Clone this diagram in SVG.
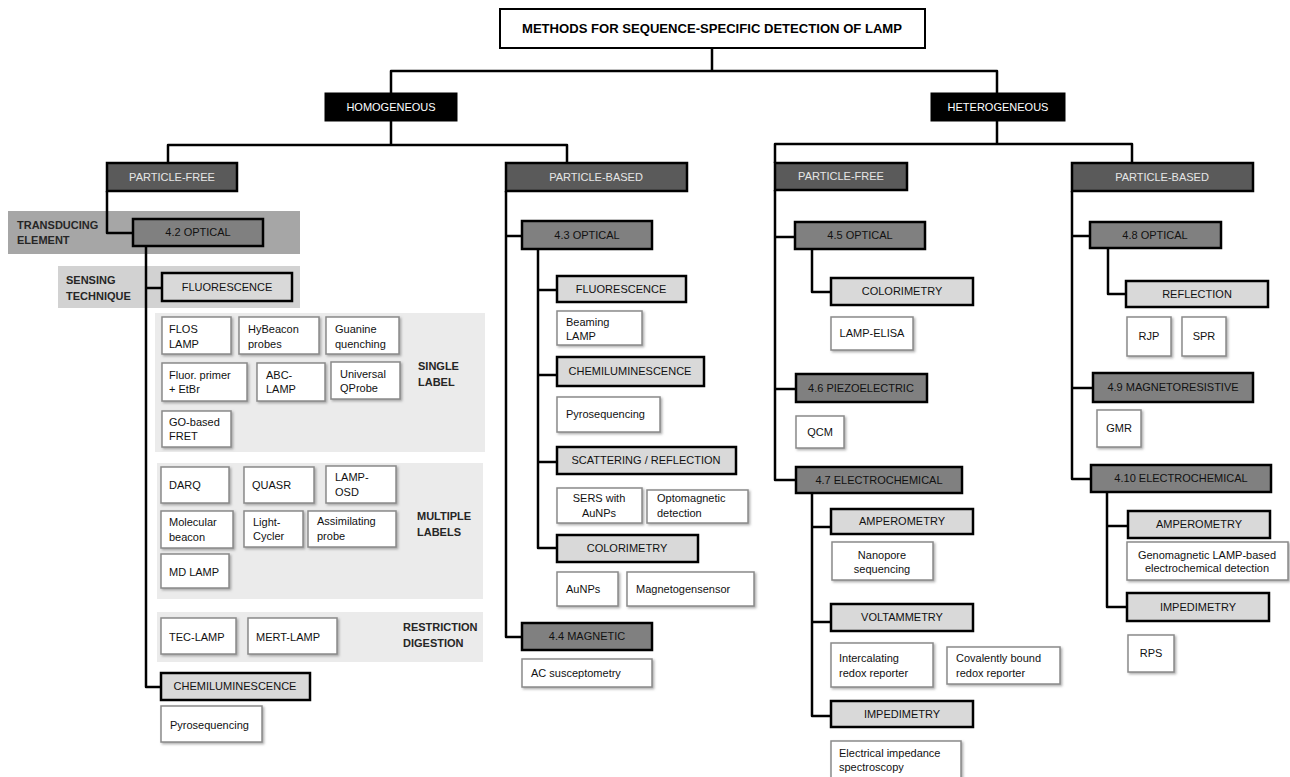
<svg xmlns="http://www.w3.org/2000/svg" width="1290" height="777" viewBox="0 0 1290 777">
<defs>
<filter id="sh" x="-10%" y="-10%" width="130%" height="140%">
<feDropShadow dx="1.5" dy="1.5" stdDeviation="0.8" flood-color="#777" flood-opacity="0.6"/>
</filter>
<style>
text{font-family:"Liberation Sans",Arial,sans-serif;font-size:11px;fill:#111}
.c{text-anchor:middle}
.b{font-weight:bold;fill:#262626}
.blk rect{fill:#000;stroke:#000;stroke-width:1}
.blk text{fill:#fff}
.dk rect{fill:#5a5a5a;stroke:#000;stroke-width:2.5}
.dk text{fill:#e6e6e6}
.md rect{fill:#808080;stroke:#000;stroke-width:2.5}
.lt rect{fill:#d9d9d9;stroke:#000;stroke-width:2.5}
.lf rect{fill:#fff;stroke:#8a8a8a;stroke-width:1.5;filter:url(#sh)}
.band{stroke:none}
#connectors path{fill:none;stroke:#000;stroke-width:2.5;stroke-linejoin:round}
</style>
</defs>
<rect width="1290" height="777" fill="#fff"/>

<g id="bands">
<rect class="band" x="8" y="211" width="292" height="43" fill="#a6a6a6"/>
<text class="b" x="17" y="229">TRANSDUCING</text>
<text class="b" x="17" y="244">ELEMENT</text>
<rect class="band" x="58" y="266" width="242" height="42" fill="#d2d2d2"/>
<text class="b" x="66" y="284">SENSING</text>
<text class="b" x="66" y="300">TECHNIQUE</text>
<rect class="band" x="155" y="313" width="330" height="139" fill="#ebebeb"/>
<text class="b" x="418" y="370">SINGLE</text>
<text class="b" x="418" y="386">LABEL</text>
<rect class="band" x="157" y="463" width="326" height="136" fill="#ebebeb"/>
<text class="b" x="417" y="520">MULTIPLE</text>
<text class="b" x="417" y="536">LABELS</text>
<rect class="band" x="157" y="612" width="326" height="50" fill="#ebebeb"/>
<text class="b" x="403" y="631">RESTRICTION</text>
<text class="b" x="403" y="647">DIGESTION</text>
</g>

<g id="connectors">
<path d="M712,48 V71 M391,93 V71 H997 V93"/>
<path d="M391,121 V145 M168,163 V145 H567 V163"/>
<path d="M997,121 V144 M775,163 V144 H1132 V163"/>
<path d="M107,191 V233 H133"/>
<path d="M146,246 V687 H161 M146,288 H162"/>
<path d="M506,191 V637 H522 M506,236 H522"/>
<path d="M538,249 V548 H557 M538,290 H557 M538,375 H557 M538,462 H557"/>
<path d="M775,190 V480 H796 M775,237 H795 M775,389 H796"/>
<path d="M812,249 V292 H831"/>
<path d="M812,493 V716 H831 M812,527 H831 M812,622 H831"/>
<path d="M1072,191 V479 H1091 M1072,236 H1090 M1072,388 H1093"/>
<path d="M1108,248 V294 H1126"/>
<path d="M1107,492 V607 H1127 M1107,526 H1128"/>
</g>

<g id="n-title">
<rect x="500" y="9" width="425" height="39" fill="#fff" stroke="#000" stroke-width="2"/>
<text class="c" x="712" y="33" style="font-size:12.5px;font-weight:bold;fill:#000" textLength="380" lengthAdjust="spacingAndGlyphs">METHODS FOR SEQUENCE-SPECIFIC DETECTION OF LAMP</text>
</g>

<g id="n-homogeneous" class="blk"><rect x="325" y="93" width="132" height="28"/><text class="c" x="391" y="111">HOMOGENEOUS</text></g>
<g id="n-heterogeneous" class="blk"><rect x="931" y="93" width="134" height="28"/><text class="c" x="998" y="111">HETEROGENEOUS</text></g>

<g id="n-pf-homo" class="dk"><rect x="107" y="163" width="130" height="28"/><text class="c" x="172" y="181">PARTICLE-FREE</text></g>
<g id="n-pb-homo" class="dk"><rect x="506" y="163" width="181" height="28"/><text class="c" x="596" y="181">PARTICLE-BASED</text></g>
<g id="n-pf-hetero" class="dk"><rect x="775" y="163" width="132" height="27"/><text class="c" x="841" y="180">PARTICLE-FREE</text></g>
<g id="n-pb-hetero" class="dk"><rect x="1072" y="163" width="181" height="28"/><text class="c" x="1162" y="181">PARTICLE-BASED</text></g>

<g id="n-4-2" class="md"><rect x="133" y="219" width="130" height="27"/><text class="c" x="198" y="236">4.2 OPTICAL</text></g>
<g id="n-4-3" class="md"><rect x="522" y="221" width="130" height="28"/><text class="c" x="587" y="239">4.3 OPTICAL</text></g>
<g id="n-4-4" class="md"><rect x="522" y="623" width="130" height="27"/><text class="c" x="587" y="640">4.4 MAGNETIC</text></g>
<g id="n-4-5" class="md"><rect x="795" y="222" width="130" height="27"/><text class="c" x="860" y="239">4.5 OPTICAL</text></g>
<g id="n-4-6" class="md"><rect x="796" y="374" width="131" height="28"/><text class="c" x="861" y="392">4.6 PIEZOELECTRIC</text></g>
<g id="n-4-7" class="md"><rect x="796" y="467" width="166" height="26"/><text class="c" x="879" y="484">4.7 ELECTROCHEMICAL</text></g>
<g id="n-4-8" class="md"><rect x="1090" y="222" width="131" height="26"/><text class="c" x="1155" y="239">4.8 OPTICAL</text></g>
<g id="n-4-9" class="md"><rect x="1093" y="373" width="160" height="29"/><text class="c" x="1173" y="391">4.9 MAGNETORESISTIVE</text></g>
<g id="n-4-10" class="md"><rect x="1091" y="465" width="180" height="27"/><text class="c" x="1181" y="482">4.10 ELECTROCHEMICAL</text></g>

<g id="n-fluo-l" class="lt"><rect x="162" y="273" width="130" height="28"/><text class="c" x="227" y="291">FLUORESCENCE</text></g>
<g id="n-chemi-l" class="lt"><rect x="161" y="673" width="149" height="27"/><text class="c" x="235" y="690">CHEMILUMINESCENCE</text></g>
<g id="n-fluo-pb" class="lt"><rect x="557" y="276" width="129" height="26"/><text class="c" x="621" y="293">FLUORESCENCE</text></g>
<g id="n-chemi-pb" class="lt"><rect x="557" y="357" width="147" height="29"/><text class="c" x="630" y="375">CHEMILUMINESCENCE</text></g>
<g id="n-scat" class="lt"><rect x="557" y="447" width="179" height="27"/><text class="c" x="646" y="464">SCATTERING / REFLECTION</text></g>
<g id="n-color-pb" class="lt"><rect x="557" y="535" width="141" height="27"/><text class="c" x="627" y="552">COLORIMETRY</text></g>
<g id="n-color-pf" class="lt"><rect x="831" y="278" width="142" height="27"/><text class="c" x="902" y="295">COLORIMETRY</text></g>
<g id="n-amp-47" class="lt"><rect x="831" y="509" width="142" height="25"/><text class="c" x="902" y="525">AMPEROMETRY</text></g>
<g id="n-volt" class="lt"><rect x="831" y="604" width="142" height="27"/><text class="c" x="902" y="621">VOLTAMMETRY</text></g>
<g id="n-imp-47" class="lt"><rect x="831" y="701" width="142" height="26"/><text class="c" x="902" y="718">IMPEDIMETRY</text></g>
<g id="n-refl" class="lt"><rect x="1126" y="281" width="142" height="26"/><text class="c" x="1197" y="298">REFLECTION</text></g>
<g id="n-amp-410" class="lt"><rect x="1128" y="511" width="142" height="27"/><text class="c" x="1199" y="528">AMPEROMETRY</text></g>
<g id="n-imp-410" class="lt"><rect x="1127" y="593" width="142" height="28"/><text class="c" x="1198" y="611">IMPEDIMETRY</text></g>

<g id="n-flos" class="lf"><rect x="162" y="317" width="69" height="37"/><text x="169" y="333">FLOS</text><text x="169" y="348">LAMP</text></g>
<g id="n-hybeacon" class="lf"><rect x="239" y="317" width="80" height="37"/><text x="248" y="333">HyBeacon</text><text x="248" y="348">probes</text></g>
<g id="n-guanine" class="lf"><rect x="326" y="317" width="73" height="37"/><text x="335" y="333">Guanine</text><text x="335" y="348">quenching</text></g>
<g id="n-fluorprimer" class="lf"><rect x="162" y="363" width="85" height="38"/><text x="169" y="379">Fluor. primer</text><text x="169" y="393">+ EtBr</text></g>
<g id="n-abc" class="lf"><rect x="257" y="363" width="68" height="38"/><text x="266" y="379">ABC-</text><text x="266" y="393">LAMP</text></g>
<g id="n-qprobe" class="lf"><rect x="331" y="362" width="69" height="37"/><text x="340" y="378">Universal</text><text x="340" y="392">QProbe</text></g>
<g id="n-gofret" class="lf"><rect x="162" y="411" width="69" height="36"/><text x="169" y="426">GO-based</text><text x="169" y="440">FRET</text></g>
<g id="n-darq" class="lf"><rect x="161" y="467" width="68" height="36"/><text x="169" y="489">DARQ</text></g>
<g id="n-quasr" class="lf"><rect x="244" y="467" width="70" height="36"/><text x="252" y="489">QUASR</text></g>
<g id="n-lampods" class="lf"><rect x="326" y="466" width="70" height="37"/><text x="335" y="481">LAMP-</text><text x="335" y="496">OSD</text></g>
<g id="n-molbeacon" class="lf"><rect x="161" y="511" width="72" height="37"/><text x="169" y="526">Molecular</text><text x="169" y="541">beacon</text></g>
<g id="n-lightcycler" class="lf"><rect x="244" y="511" width="59" height="36"/><text x="253" y="526">Light-</text><text x="253" y="540">Cycler</text></g>
<g id="n-assim" class="lf"><rect x="308" y="511" width="88" height="36"/><text x="317" y="525">Assimilating</text><text x="317" y="540">probe</text></g>
<g id="n-mdlamp" class="lf"><rect x="161" y="554" width="68" height="34"/><text x="169" y="576">MD LAMP</text></g>
<g id="n-tec" class="lf"><rect x="161" y="618" width="75" height="36"/><text x="169" y="641">TEC-LAMP</text></g>
<g id="n-mert" class="lf"><rect x="248" y="618" width="89" height="36"/><text x="256" y="641">MERT-LAMP</text></g>
<g id="n-pyro-l" class="lf"><rect x="161" y="706" width="101" height="36"/><text x="170" y="729">Pyrosequencing</text></g>

<g id="n-beaming" class="lf"><rect x="557" y="311" width="85" height="34"/><text x="566" y="326">Beaming</text><text x="566" y="340">LAMP</text></g>
<g id="n-pyro-pb" class="lf"><rect x="557" y="397" width="103" height="35"/><text x="566" y="418">Pyrosequencing</text></g>
<g id="n-sers" class="lf"><rect x="557" y="488" width="85" height="35"/><text class="c" x="599" y="502">SERS with</text><text class="c" x="599" y="517">AuNPs</text></g>
<g id="n-optomag" class="lf"><rect x="647" y="490" width="101" height="33"/><text x="657" y="502">Optomagnetic</text><text x="657" y="517">detection</text></g>
<g id="n-aunps" class="lf"><rect x="557" y="572" width="61" height="34"/><text x="566" y="593">AuNPs</text></g>
<g id="n-magneto" class="lf"><rect x="627" y="572" width="127" height="34"/><text x="636" y="593">Magnetogensensor</text></g>
<g id="n-acsus" class="lf"><rect x="522" y="659" width="130" height="28"/><text x="531" y="677">AC susceptometry</text></g>

<g id="n-lampelisa" class="lf"><rect x="831" y="317" width="82" height="33"/><text class="c" x="872" y="337">LAMP-ELISA</text></g>
<g id="n-qcm" class="lf"><rect x="796" y="416" width="48" height="32"/><text class="c" x="820" y="436">QCM</text></g>
<g id="n-nanopore" class="lf"><rect x="832" y="542" width="101" height="38"/><text class="c" x="882" y="559">Nanopore</text><text class="c" x="882" y="573">sequencing</text></g>
<g id="n-intercal" class="lf"><rect x="831" y="643" width="102" height="44"/><text x="839" y="662">Intercalating</text><text x="839" y="677">redox reporter</text></g>
<g id="n-covalent" class="lf"><rect x="947" y="647" width="113" height="37"/><text x="956" y="662">Covalently bound</text><text x="956" y="677">redox reporter</text></g>
<g id="n-eis" class="lf"><rect x="831" y="741" width="130" height="40"/><text x="839" y="757">Electrical impedance</text><text x="839" y="771">spectroscopy</text></g>

<g id="n-rjp" class="lf"><rect x="1127" y="317" width="44" height="39"/><text class="c" x="1149" y="340">RJP</text></g>
<g id="n-spr" class="lf"><rect x="1182" y="317" width="44" height="39"/><text class="c" x="1204" y="340">SPR</text></g>
<g id="n-gmr" class="lf"><rect x="1097" y="410" width="44" height="37"/><text class="c" x="1119" y="432">GMR</text></g>
<g id="n-genomag" class="lf"><rect x="1127" y="542" width="161" height="38"/><text class="c" x="1207" y="559">Genomagnetic LAMP-based</text><text class="c" x="1207" y="572">electrochemical detection</text></g>
<g id="n-rps" class="lf"><rect x="1128" y="635" width="46" height="37"/><text class="c" x="1151" y="657">RPS</text></g>
</svg>
